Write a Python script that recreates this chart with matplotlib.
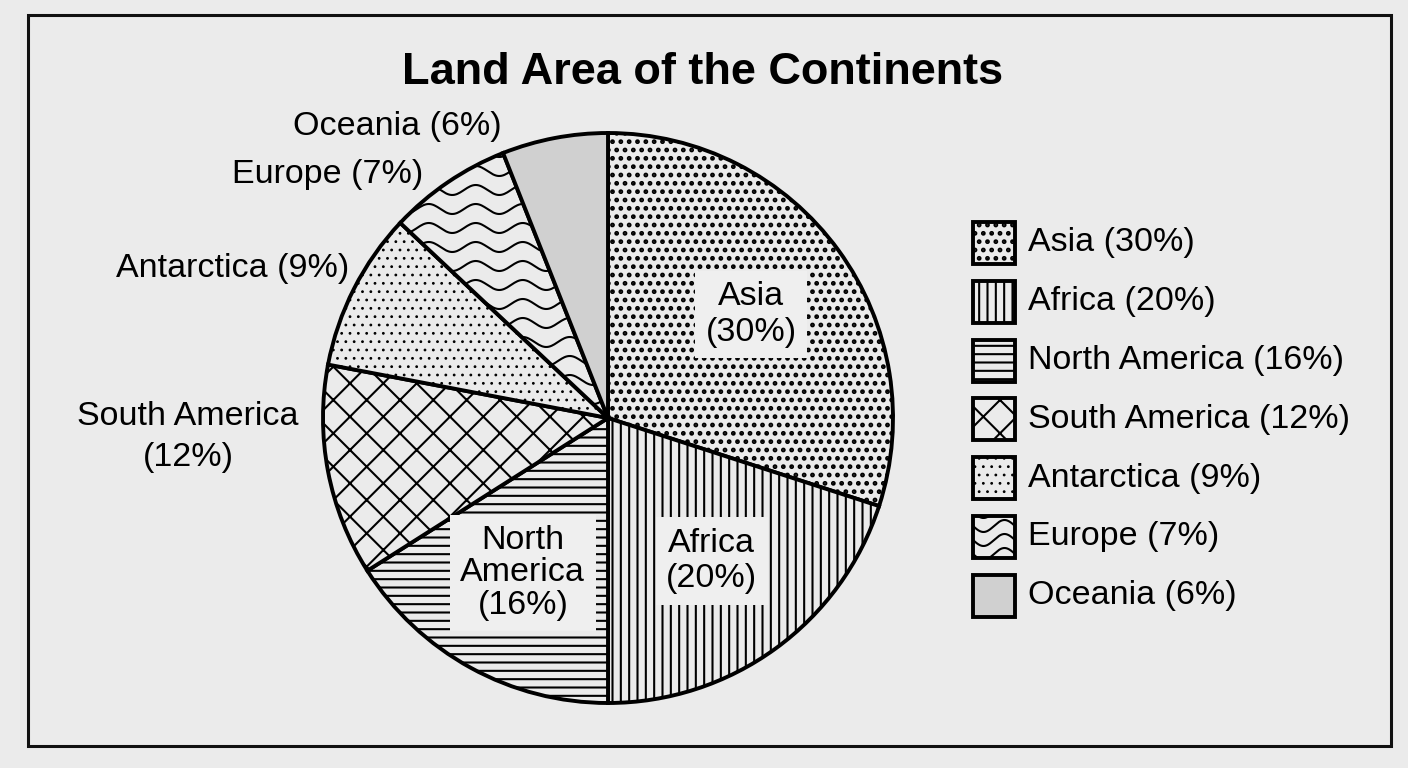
import numpy as np
import matplotlib
matplotlib.use('Agg')
import matplotlib.pyplot as plt
from matplotlib.patches import Rectangle

plt.rcParams['font.family'] = ['Liberation Sans', 'DejaVu Sans']
plt.rcParams['hatch.linewidth'] = 1.5

# data
continents = ['Asia', 'Africa', 'North America', 'South America', 'Antarctica', 'Europe', 'Oceania']
shares = [30, 20, 16, 12, 9, 7, 6]
inside_labels = ['Asia\n(30%)', 'Africa\n(20%)', 'North\nAmerica\n(16%)', None, None, None, None]
outside_labels = [None, None, None, 'South America\n(12%)', 'Antarctica (9%)', 'Europe (7%)', 'Oceania (6%)']

# looks
bg = '#ebebeb'
hatches = ['..', '||', '--', 'x', '..', '', '']
hatch_lw = [2.2, 1.5, 1.5, 1.5, 0.8, 1.5, 1.5]
faces = [bg, bg, bg, bg, bg, bg, '#d0d0d0']
wavy = [False, False, False, False, False, True, False]
# outside label anchors in pixels (x, y, ha)
out_pos = {3: (188, 437, 'center'), 4: (349, 268, 'right'), 5: (423, 175, 'right'), 6: (502, 127, 'right')}
in_spacing = [1.2, 1.2, 1.05]
fs = 24.5

W, H = 1408, 768
cx, cy, R = 608, 418, 285
fig = plt.figure(figsize=(W / 100, H / 100), dpi=100, facecolor=bg)

# overlay in pixel coords for frame, title, legend
ov = fig.add_axes([0, 0, 1, 1])
ov.set_xlim(0, W); ov.set_ylim(H, 0); ov.axis('off')
ov.add_patch(Rectangle((28, 15), 1363, 731, fill=False, edgecolor='#111111', lw=2.2))
ov.text(703, 72, 'Land Area of the Continents', ha='center', va='center',
        fontsize=32.5, fontweight='bold')


def set_hlw(p, lw):
    if hasattr(p, 'set_hatch_linewidth'):
        p.set_hatch_linewidth(lw)


def draw_waves(ax, x0, x1, y0, y1, wavelength, amp, spacing, clip, lw=1.5, z=2):
    xs = np.linspace(x0, x1, 400)
    for yb in np.arange(y0, y1, spacing):
        ln, = ax.plot(xs, yb + amp * np.sin(2 * np.pi * (xs - x0) / wavelength),
                      color='black', lw=lw, solid_capstyle='butt', zorder=z)
        ln.set_clip_path(clip)


# pie
m = 1.1
ax = fig.add_axes([(cx - m * R) / W, (H - cy - m * R) / H, 2 * m * R / W, 2 * m * R / H])
wedges, _ = ax.pie(shares, startangle=90, counterclock=False, colors=faces, hatch=hatches,
                   wedgeprops=dict(edgecolor='black', linewidth=2.8), radius=1)
ax.set_xlim(-m, m); ax.set_ylim(-m, m); ax.axis('off')

for i, w in enumerate(wedges):
    set_hlw(w, hatch_lw[i])
    if wavy[i]:
        draw_waves(ax, -1, 1, -1, 1, 47 / R, 5 / R, 19 / R, w)

    mid = np.deg2rad((w.theta1 + w.theta2) / 2)
    if inside_labels[i]:
        r = 0.62
        ax.text(r * np.cos(mid), r * np.sin(mid), inside_labels[i], ha='center', va='center',
                fontsize=fs, linespacing=in_spacing[i], zorder=5,
                bbox=dict(boxstyle='square,pad=0.3', facecolor='#efefef', edgecolor='none'))
    if outside_labels[i]:
        px, py, ha = out_pos[i]
        ov.text(px, py, outside_labels[i], ha=ha, va='center', fontsize=fs,
                multialignment='center', linespacing=1.45)

# legend
for i, name in enumerate(continents):
    y = 222 + i * 58.8
    box = Rectangle((973, y), 42, 42, facecolor=faces[i], hatch=hatches[i],
                    edgecolor='black', lw=2.8, zorder=3)
    set_hlw(box, hatch_lw[i])
    ov.add_patch(box)
    if wavy[i]:
        draw_waves(ov, 973, 1015, y - 4, y + 48, 42, 6, 14, box, z=4)
    ov.text(1028, y + 21, f'{name} ({shares[i]}%)', ha='left', va='center', fontsize=fs)

fig.savefig('out.png', dpi=100, facecolor=bg)
